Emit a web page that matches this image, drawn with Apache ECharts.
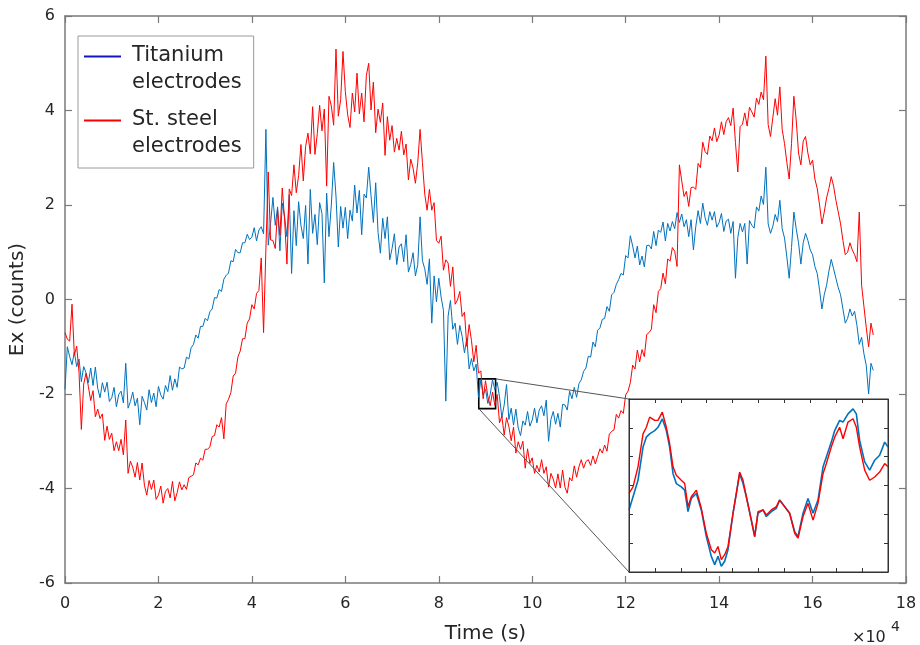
<!DOCTYPE html>
<html lang="en">
<head>
  <meta charset="UTF-8" />
  <title>Ex counts</title>
  <script src="https://cdn.jsdelivr.net/npm/echarts@6/dist/echarts.min.js"></script>
</head>
<body style="margin:0;background:#fff;">
  <div id="main" style="width: 920px; height: 645px;"></div>
  <script type="text/javascript">
    // colours and fonts
    let tiColor = "#0072bd";
    let stColor = "#ff0000";
    let tiLegendColor = "#1515c8";
    let axisColor = "#7a7a7a";
    let textColor = "#262626";
    let fontFamily = "DejaVu Sans";

    // samples every 0.05 (x 10^4 s)
    let sampleStep = 0.05;
    let titanium = [
      -1.9,-1.0,-1.21,-1.38,-1.11,-1.42,-1.26,-1.74,-1.42,-1.55,-1.76,-1.45,-1.82,-1.43,-1.88,-2.08,-1.76,-1.96,-1.75,-2.16,
      -2.08,-1.86,-2.27,-2.01,-1.94,-2.19,-1.35,-2.3,-2.16,-1.96,-2.25,-2.09,-2.65,-2.05,-2.18,-2.34,-1.91,-2.18,-1.98,-2.27,
      -1.84,-2.02,-2.11,-1.82,-1.95,-1.61,-1.92,-1.68,-1.86,-1.43,-1.47,-1.45,-1.22,-1.26,-1.02,-0.95,-0.75,-0.82,-0.57,-0.57,
      -0.4,-0.45,-0.26,-0.2,0.04,0.03,0.21,0.17,0.43,0.51,0.56,0.82,0.8,1.06,0.99,0.99,1.2,1.2,1.38,1.27,
      1.32,1.52,1.24,1.47,1.54,1.39,3.6,1.15,1.61,2.16,1.57,1.96,1.03,2.04,1.75,1.33,2.22,0.55,1.88,1.14,
      2.07,1.57,1.29,1.99,0.75,2.33,1.4,1.8,1.16,2.05,1.82,0.35,2.25,1.33,2.0,2.9,2.19,1.11,1.97,1.51,
      1.95,1.29,1.89,1.66,2.42,1.83,2.31,1.37,2.23,2.15,2.8,2.2,1.63,2.47,1.42,0.98,1.72,1.29,1.75,0.84,
      1.08,1.39,0.74,1.11,1.18,0.8,1.37,0.58,0.74,0.99,0.5,0.74,1.75,0.82,0.65,0.32,0.86,-0.5,0.5,-0.05,
      0.45,0.05,-0.23,-2.15,-0.35,-0.02,-0.63,-0.5,-0.95,-0.55,-0.78,-1.13,-0.82,-1.47,-1.25,-1.51,-1.37,-2.07,-1.7,-2.02,
      -1.9,-2.2,-2.01,-1.7,-1.91,-1.75,-2.06,-2.5,-2.23,-1.8,-2.54,-2.3,-2.66,-2.32,-2.72,-2.88,-2.57,-2.66,-2.37,-2.68,
      -2.55,-2.3,-2.61,-2.34,-2.25,-2.46,-2.13,-3.0,-2.54,-2.37,-2.64,-2.41,-2.7,-2.22,-2.23,-2.34,-1.94,-2.1,-1.86,-2.07,
      -1.78,-1.7,-1.52,-1.45,-1.2,-1.22,-0.9,-1.0,-0.65,-0.6,-0.42,-0.4,-0.15,-0.25,0.1,0.15,0.32,0.42,0.55,0.52,
      0.93,0.88,1.35,1.13,0.88,1.13,0.73,0.92,0.69,1.14,1.15,1.07,1.44,1.14,1.47,1.42,1.64,1.24,1.61,1.45,
      1.65,1.5,1.84,1.63,1.81,1.54,1.69,1.33,1.69,1.05,1.54,1.88,1.61,2.04,1.73,1.57,1.86,1.68,1.86,1.53,
      1.63,1.82,1.44,1.66,1.7,1.4,1.65,0.45,1.31,1.61,1.43,1.61,0.75,1.67,1.57,1.51,1.96,1.87,2.19,2.01,
      2.8,1.6,1.4,1.55,1.8,1.65,2.1,1.5,1.3,0.9,0.45,1.1,1.85,1.5,1.2,0.75,1.2,1.4,1.25,1.05,
      0.95,0.7,0.55,0.2,-0.2,0.1,0.3,0.6,0.85,0.65,0.45,0.25,0.1,-0.2,-0.5,-0.4,-0.2,-0.35,-0.25,-0.55,
      -0.95,-0.8,-1.15,-1.4,-2.0,-1.35,-1.5
    ];
    let steel = [
      -0.7,-0.84,-0.88,-0.1,-1.18,-0.99,-1.54,-2.75,-1.79,-1.56,-1.84,-2.14,-1.93,-2.48,-2.32,-2.52,-2.42,-2.98,-2.68,-2.96,
      -2.83,-3.2,-3.01,-3.2,-2.96,-3.29,-2.55,-3.68,-3.42,-3.55,-3.76,-3.45,-3.82,-3.46,-3.93,-4.14,-3.83,-4.02,-3.82,-4.23,
      -4.14,-3.95,-4.31,-4.06,-4.0,-4.2,-3.85,-4.26,-4.09,-3.86,-4.03,-3.92,-4.02,-3.77,-3.74,-3.71,-3.46,-3.5,-3.36,-3.4,
      -3.17,-3.17,-3.12,-2.9,-2.88,-2.65,-2.7,-2.5,-2.95,-2.21,-2.11,-1.97,-1.62,-1.56,-1.22,-1.09,-0.83,-0.83,-0.5,-0.41,
      -0.11,-0.2,0.13,0.19,0.88,-0.7,1.07,2.7,1.26,1.25,1.08,1.9,1.36,2.36,1.69,0.75,2.34,2.2,2.85,2.26,
      2.62,3.28,2.51,3.24,3.52,3.08,4.08,3.07,3.51,4.11,3.57,4.03,2.4,4.3,4.1,3.69,5.3,3.88,4.23,5.25,
      4.4,3.91,3.64,4.37,3.97,4.79,3.93,4.37,3.76,4.74,5.0,4.01,4.6,3.53,4.03,3.75,4.16,3.05,3.87,3.37,
      3.68,3.12,3.41,3.16,3.56,3.06,3.29,2.53,2.97,2.78,2.46,2.9,3.6,2.9,2.23,1.89,2.33,1.89,2.05,1.25,
      1.19,1.34,0.62,0.84,0.77,0.28,0.69,-0.1,-0.01,0.17,-0.36,-0.27,-0.99,-0.53,-0.87,-1.32,-0.97,-1.56,-1.51,-2.1,
      -1.72,-2.05,-2.25,-1.96,-2.24,-2.01,-2.61,-2.47,-2.87,-2.5,-2.69,-2.99,-2.7,-3.25,-3.01,-3.17,-3.0,-3.57,-3.16,-3.47,
      -3.35,-3.68,-3.51,-3.65,-3.39,-3.68,-3.54,-3.97,-3.68,-3.8,-3.99,-3.69,-3.99,-3.61,-3.97,-4.1,-3.77,-3.84,-3.52,-3.76,
      -3.54,-3.39,-3.57,-3.43,-3.39,-3.51,-3.31,-3.48,-3.32,-3.16,-3.25,-3.08,-3.21,-2.85,-2.79,-2.76,-2.43,-2.51,-2.35,-2.41,
      -2.02,-1.94,-1.76,-1.39,-1.47,-1.07,-1.32,-1.06,-1.21,-0.74,-0.7,-0.63,-0.11,-0.28,0.17,0.23,0.56,0.33,0.86,0.81,
      1.1,1.02,0.7,2.85,2.51,2.18,2.29,1.97,2.37,2.38,2.33,2.88,2.79,3.33,3.13,3.07,3.46,3.36,3.63,3.34,
      3.48,3.76,3.49,3.76,3.85,3.68,4.05,3.32,2.7,3.66,3.71,3.95,3.67,4.07,3.97,3.86,4.26,4.13,4.39,4.23,
      5.15,3.7,3.45,3.85,4.25,3.9,4.5,3.6,3.3,2.9,2.55,3.3,4.3,3.8,3.1,2.85,3.35,3.45,3.1,2.85,
      2.95,2.55,2.35,2.0,1.6,1.85,2.15,2.35,2.6,2.4,2.1,1.85,1.6,1.25,0.95,1.0,1.2,1.05,0.95,0.8,
      1.85,0.3,-0.15,-0.6,-1.0,-0.5,-0.75
    ];

    // zoom window shown in the inset
    let zoomX0 = 8.856, zoomX1 = 9.216;
    let zoomY0 = -2.31, zoomY1 = -1.68;

    // inset samples (x 10^4 s) and values
    let insetTime = [
      8.856,8.8616,8.8685,8.8755,8.8801,8.8847,8.8917,8.8963,8.9023,8.9079,8.9125,8.9172,8.9218,8.9287,8.9334,8.938,
      8.9426,8.9496,8.9565,8.9635,8.9704,8.9751,8.9797,8.9843,8.989,8.9936,9.0006,9.0052,9.0098,9.0145,9.0191,9.026,
      9.0307,9.0353,9.0423,9.0469,9.0538,9.0608,9.0654,9.0724,9.0793,9.0863,9.0909,9.0979,9.1048,9.1118,9.1187,9.1257,
      9.1303,9.1372,9.1419,9.1488,9.1535,9.1604,9.1674,9.172,9.1766,9.1836,9.1905,9.1975,9.2044,9.2114,9.216
    ];
    let insetTi = [
      -2.084,-2.036,-1.976,-1.855,-1.819,-1.807,-1.795,-1.783,-1.752,-1.795,-1.855,-1.952,-1.988,-2.0,-2.012,-2.09,
      -2.042,-2.024,-2.084,-2.181,-2.253,-2.283,-2.253,-2.289,-2.271,-2.229,-2.096,-2.024,-1.952,-1.988,-2.036,-2.121,
      -2.181,-2.096,-2.084,-2.108,-2.09,-2.078,-2.048,-2.072,-2.096,-2.163,-2.181,-2.096,-2.042,-2.096,-2.048,-1.927,
      -1.891,-1.837,-1.795,-1.758,-1.764,-1.734,-1.716,-1.734,-1.831,-1.909,-1.939,-1.903,-1.885,-1.837,-1.855
    ];
    let insetSt = [
      -2.024,-2.0,-1.927,-1.807,-1.783,-1.746,-1.758,-1.758,-1.728,-1.783,-1.843,-1.927,-1.958,-1.976,-1.988,-2.072,
      -2.036,-2.012,-2.078,-2.169,-2.229,-2.241,-2.217,-2.265,-2.247,-2.217,-2.096,-2.024,-1.946,-1.976,-2.036,-2.121,
      -2.181,-2.09,-2.084,-2.102,-2.084,-2.072,-2.048,-2.072,-2.096,-2.169,-2.187,-2.108,-2.06,-2.121,-2.06,-1.952,
      -1.915,-1.855,-1.819,-1.783,-1.825,-1.764,-1.752,-1.783,-1.855,-1.939,-1.976,-1.964,-1.946,-1.915,-1.927
    ];

    function pairs(values) {
      return values.map(function (v, i) { return [+(i * sampleStep).toFixed(2), v]; });
    }
    function insetPairs(values) {
      return values.map(function (v, i) { return [insetTime[i], v]; });
    }

    let tickText = { color: textColor, fontSize: 16, fontFamily: fontFamily };

    function mainAxis(pos, extra) {
      return Object.assign({
        type: 'value', gridIndex: 0, position: pos,
        axisLine: { show: true, onZero: false, lineStyle: { color: axisColor, width: 1.5 } },
        axisTick: { show: true, inside: true, length: 7, lineStyle: { color: axisColor, width: 1.2 } },
        axisLabel: { show: false },
        splitLine: { show: false }
      }, extra);
    }
    function insetAxis(pos, extra) {
      return Object.assign({
        type: 'value', gridIndex: 1, position: pos, z: 12,
        axisLine: { show: true, onZero: false, lineStyle: { color: '#333', width: 1 } },
        axisTick: { show: true, inside: true, length: 4, lineStyle: { color: '#333', width: 1 } },
        axisLabel: { show: false },
        splitLine: { show: false }
      }, extra);
    }

    var myChart = echarts.init(document.getElementById('main'));

    myChart.setOption({
      animation: false,
      backgroundColor: '#fff',
      textStyle: { fontFamily: fontFamily },
      grid: [
        { left: 65, right: 14, top: 16, bottom: 62, containLabel: false, outerBoundsMode: 'none' },
        { left: 629, top: 399, width: 259, height: 173, show: true, z: 10,
          containLabel: false, outerBoundsMode: 'none',
          backgroundColor: '#fff', borderColor: '#333', borderWidth: 1 }
      ],
      legend: {
        orient: 'vertical', left: 78, top: 36,
        padding: [6, 12, 8, 6], itemGap: 10,
        itemWidth: 37, itemHeight: 27,
        icon: 'path://M0,0H37V2H0Z M0,26.99H0.01V27H0Z',
        backgroundColor: '#fff', borderColor: '#9a9a9a', borderWidth: 1,
        textStyle: { color: textColor, fontSize: 21, lineHeight: 27, fontFamily: fontFamily, padding: [0, 0, 0, 6] },
        itemStyle: { borderWidth: 0 },
        formatter: function (name) { return name.replace(/ (\S+)$/, '\n$1'); },
        data: [
          { name: 'Titanium electrodes', itemStyle: { color: tiLegendColor } },
          { name: 'St. steel electrodes', itemStyle: { color: stColor } }
        ]
      },
      xAxis: [
        mainAxis('bottom', {
          min: 0, max: 18, interval: 2,
          axisLabel: Object.assign({ show: true, margin: 13 }, tickText),
          name: 'Time (s)', nameLocation: 'middle', nameGap: 41,
          nameTextStyle: { color: textColor, fontSize: 20, fontFamily: fontFamily }
        }),
        mainAxis('top', { min: 0, max: 18, interval: 2 }),
        insetAxis('bottom', { min: zoomX0, max: zoomX1, interval: 0.036 }),
        insetAxis('top', { min: zoomX0, max: zoomX1, interval: 0.036 })
      ],
      yAxis: [
        mainAxis('left', {
          min: -6, max: 6, interval: 2,
          axisLabel: Object.assign({ show: true, margin: 10 }, tickText),
          name: 'Ex (counts)', nameLocation: 'middle', nameGap: 37,
          nameTextStyle: { color: textColor, fontSize: 20, fontFamily: fontFamily }
        }),
        mainAxis('right', { min: -6, max: 6, interval: 2 }),
        insetAxis('left', { min: zoomY0, max: zoomY1, interval: 0.105 }),
        insetAxis('right', { min: zoomY0, max: zoomY1, interval: 0.105 })
      ],
      series: [
        {
          name: 'Titanium electrodes', type: 'line', xAxisIndex: 0, yAxisIndex: 0,
          data: pairs(titanium), showSymbol: false, symbol: 'none',
          lineStyle: { color: tiColor, width: 1 }, itemStyle: { color: tiColor }
        },
        {
          name: 'St. steel electrodes', type: 'line', xAxisIndex: 0, yAxisIndex: 0,
          data: pairs(steel), showSymbol: false, symbol: 'none',
          lineStyle: { color: stColor, width: 1 }, itemStyle: { color: stColor },
          markArea: {
            silent: true,
            itemStyle: { color: 'rgba(0,0,0,0)', borderColor: '#000', borderWidth: 1.6 },
            data: [[{ coord: [zoomX0, zoomY1] }, { coord: [zoomX1, zoomY0] }]]
          }
        },
        {
          name: 'Titanium inset', type: 'line', xAxisIndex: 2, yAxisIndex: 2, z: 11,
          data: insetPairs(insetTi), showSymbol: false, symbol: 'none',
          lineStyle: { color: tiColor, width: 1.6 }
        },
        {
          name: 'St. steel inset', type: 'line', xAxisIndex: 2, yAxisIndex: 2, z: 11,
          data: insetPairs(insetSt), showSymbol: false, symbol: 'none',
          lineStyle: { color: stColor, width: 1.4 }
        }
      ]
    });

    // lines from the zoom box to the inset, plus the axis exponent
    var boxTopRight = myChart.convertToPixel({ xAxisIndex: 0, yAxisIndex: 0 }, [zoomX1, zoomY1]);
    var boxBottomLeft = myChart.convertToPixel({ xAxisIndex: 0, yAxisIndex: 0 }, [zoomX0, zoomY0]);
    var insetTopLeft = myChart.convertToPixel({ xAxisIndex: 2, yAxisIndex: 2 }, [zoomX0, zoomY1]);
    var insetBottomLeft = myChart.convertToPixel({ xAxisIndex: 2, yAxisIndex: 2 }, [zoomX0, zoomY0]);

    myChart.setOption({
      graphic: [
        { type: 'line', z: 9, silent: true,
          shape: { x1: boxTopRight[0], y1: boxTopRight[1], x2: insetTopLeft[0], y2: insetTopLeft[1] },
          style: { stroke: '#555', lineWidth: 1 } },
        { type: 'line', z: 9, silent: true,
          shape: { x1: boxBottomLeft[0], y1: boxBottomLeft[1], x2: insetBottomLeft[0], y2: insetBottomLeft[1] },
          style: { stroke: '#555', lineWidth: 1 } },
        { type: 'text', left: 852, top: 630, silent: true,
          style: { text: '×10', fill: textColor, fontSize: 16, fontFamily: fontFamily } },
        { type: 'text', left: 891, top: 620, silent: true,
          style: { text: '4', fill: textColor, fontSize: 14, fontFamily: fontFamily } }
      ]
    });
  </script>
</body>
</html>
